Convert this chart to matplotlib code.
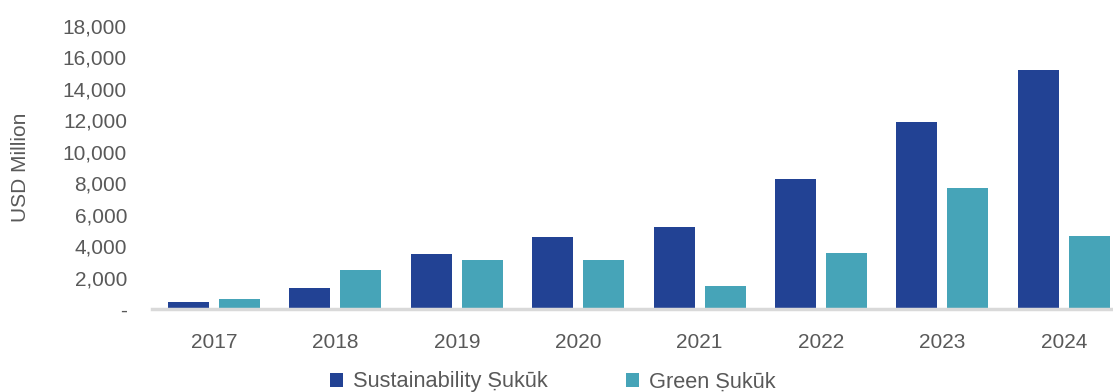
import matplotlib
matplotlib.use('Agg')
import matplotlib.pyplot as plt
from matplotlib.ticker import FuncFormatter
import numpy as np

plt.rcParams['font.family'] = ['Liberation Sans', 'DejaVu Sans']

years = ['2017', '2018', '2019', '2020', '2021', '2022', '2023', '2024']
sustainability = [450, 1350, 3500, 4600, 5200, 8270, 11900, 15200]
green = [620, 2500, 3100, 3100, 1480, 3560, 7700, 4650]

dark_blue = '#224294'
teal = '#46a4b8'
text_col = '#595959'

fig = plt.figure(figsize=(11.13, 3.92), dpi=100)
ax = fig.add_axes([152 / 1113, 83 / 392, (1113 - 152) / 1113, (309 - 26) / 392])

x = np.arange(len(years))
w = 0.338
off = 0.21
ax.bar(x - off, sustainability, w, color=dark_blue, label='Sustainability Ṣukūk')
ax.bar(x + off, green, w, color=teal, label='Green Ṣukūk')

ax.set_xlim(-0.51, 7.405)
ax.set_ylim(0, 18000)
ax.set_yticks(np.arange(0, 18001, 2000))
ax.yaxis.set_major_formatter(FuncFormatter(lambda v, p: '-' if v == 0 else f'{int(v):,}'))
ax.set_xticks(x)
ax.set_xticklabels(years)

for s in ['top', 'right', 'left']:
    ax.spines[s].set_visible(False)
ax.spines['bottom'].set_color('#d9d9d9')
ax.spines['bottom'].set_linewidth(2.5)
ax.tick_params(axis='both', length=0, labelsize=15, colors=text_col)
ax.tick_params(axis='y', pad=18)
ax.tick_params(axis='x', pad=17)

ax.set_ylabel('USD Million', fontsize=15, color=text_col)
ax.yaxis.set_label_coords(-0.127, 0.5)

fig.legend(loc='center', bbox_to_anchor=(553 / 1113, 1 - 382 / 392), ncol=2,
           frameon=False, fontsize=15.7, labelcolor=text_col, handlelength=0.6,
           handleheight=0.6, columnspacing=3.6, handletextpad=0.45)

fig.savefig('out.png', dpi=100)
